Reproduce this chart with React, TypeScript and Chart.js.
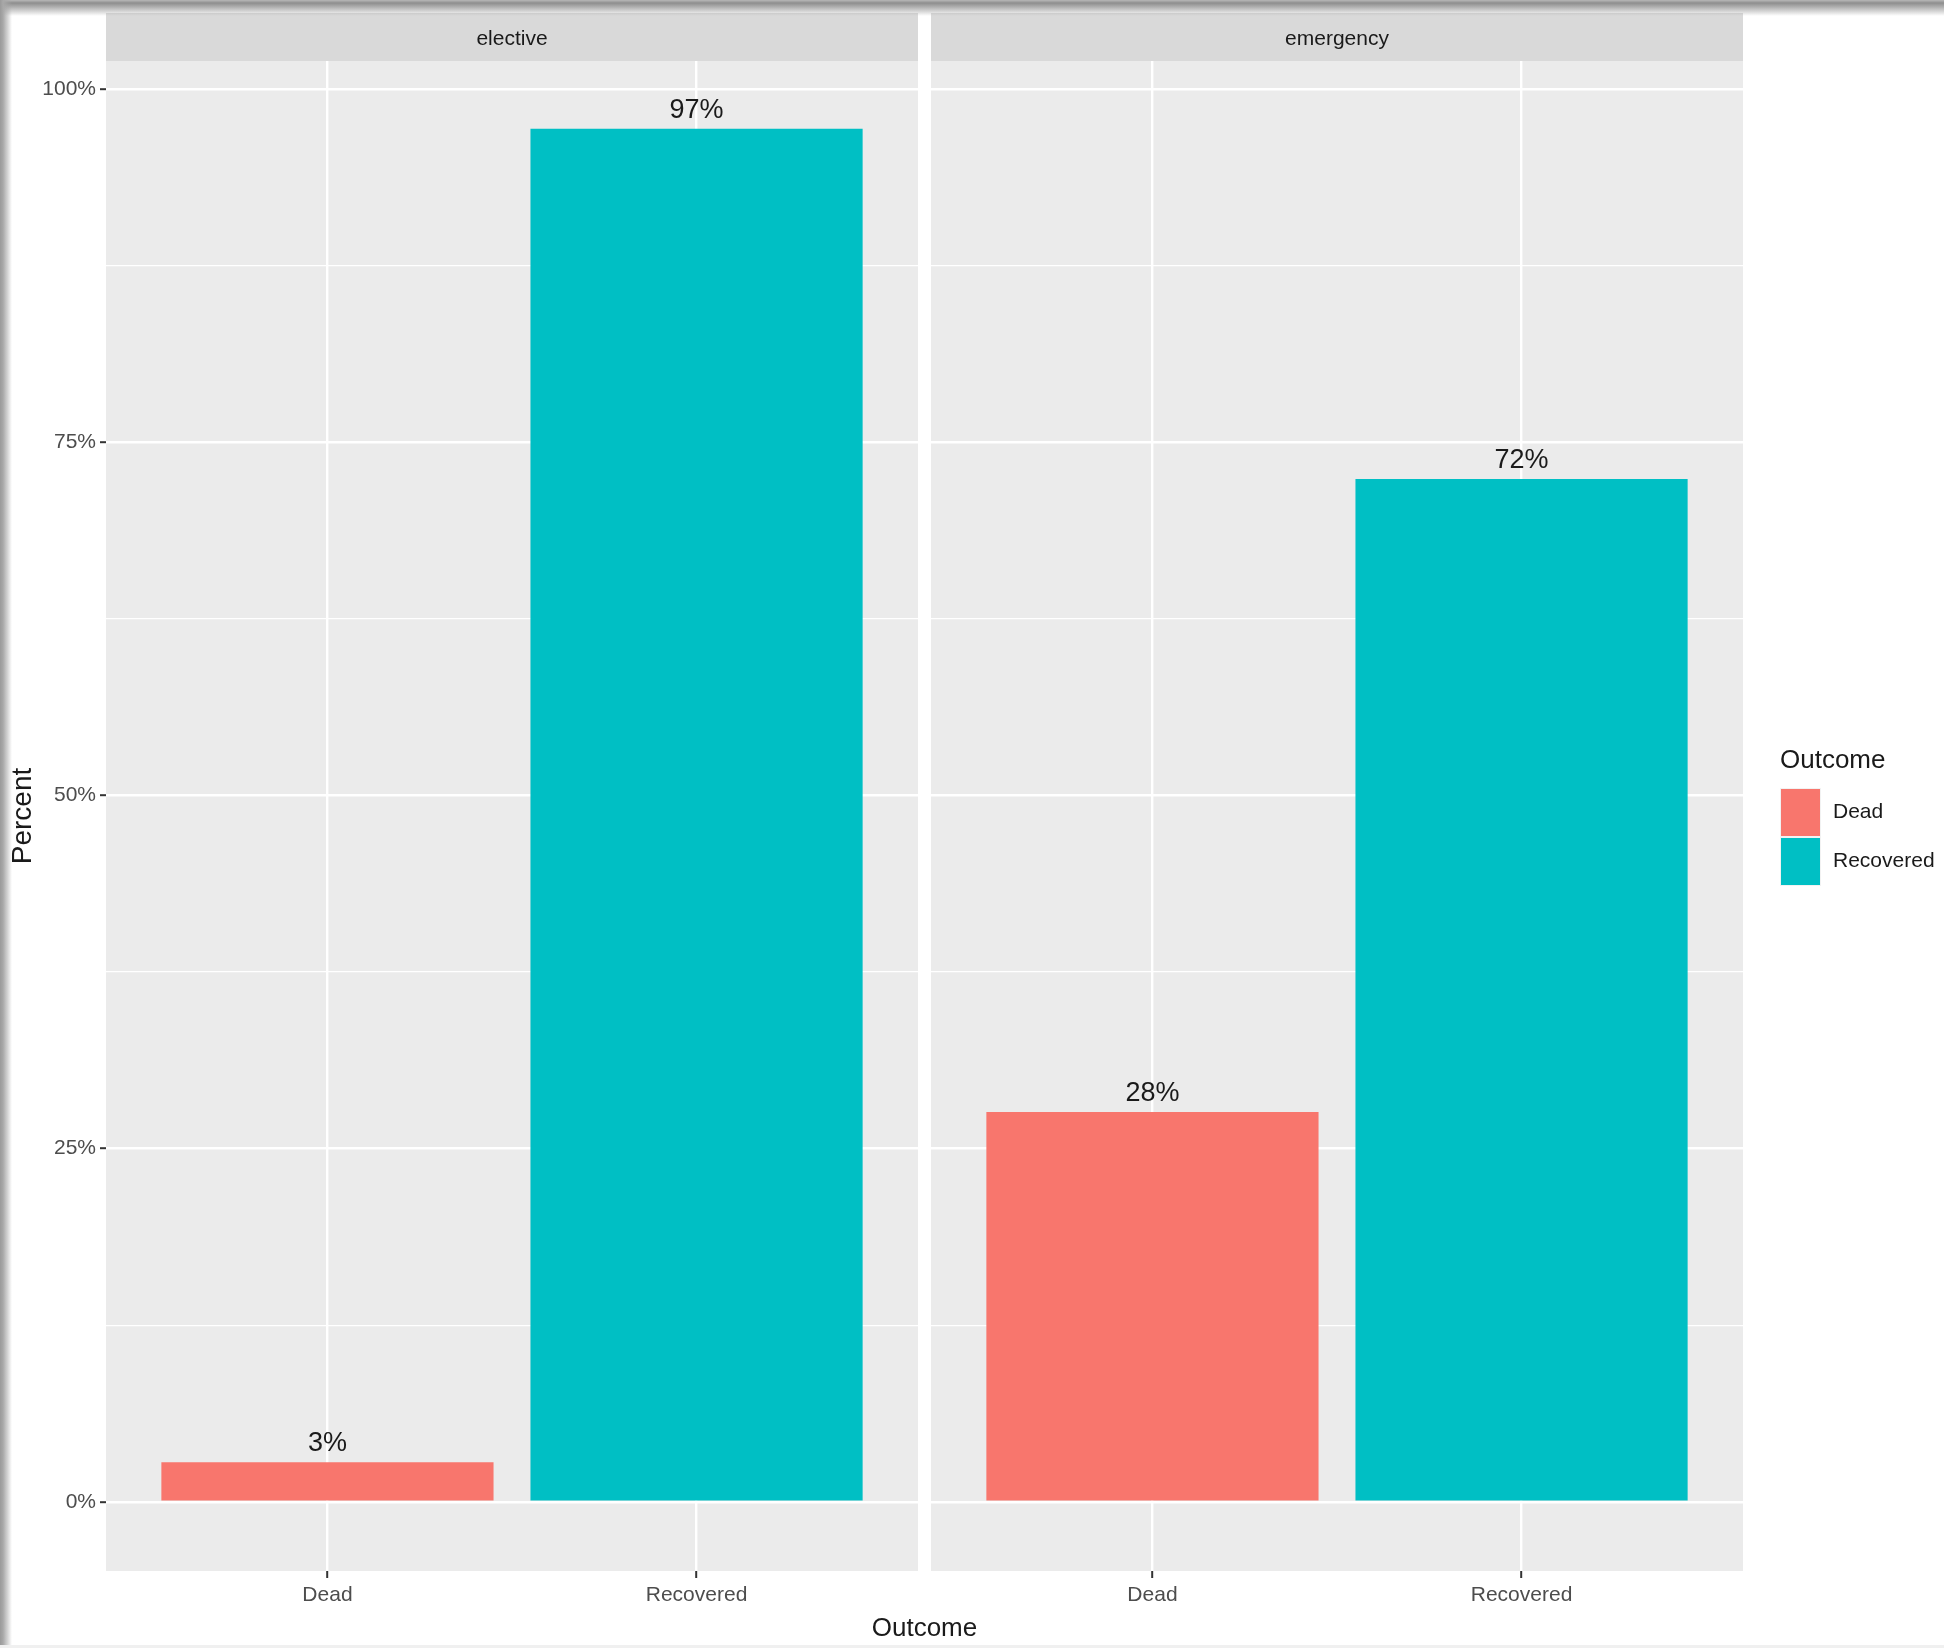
import React, { useEffect, useRef } from "react";
import { Chart, registerables } from "chart.js";

Chart.register(...registerables);

// ---------------- data ----------------
const facets = ["elective", "emergency"];
const outcomes = ["Dead", "Recovered"];
const electivePercent = [2.8, 97.2];
const emergencyPercent = [27.6, 72.4];
const outcomeColors = ["#F8766D", "#00BFC4"];
const yMajorTicks = [0, 25, 50, 75, 100];
const yMinorTicks = [12.5, 37.5, 62.5, 87.5];
const yMin = -4.9;
const yMax = 102.0;
const xMin = 0.4;
const xMax = 2.6;
const xTitle = "Outcome";
const yTitle = "Percent";
const legendTitle = "Outcome";

// ---------------- layout / style ----------------
const W = 1944;
const H = 1648;
const PANEL_A_LEFT = 106;
const PANEL_A_RIGHT = 918;
const PANEL_B_LEFT = 931;
const PANEL_B_RIGHT = 1743;
const PLOT_TOP = 61;
const PLOT_BOTTOM = 1571;
const STRIP_TOP = 13;

const SANS = '"Liberation Sans", Arial, sans-serif';
const SMALL = 21;
const TEXT_DARK = "#1A1A1A";
const TEXT_TICK = "#4D4D4D";

function makeConfig(values: number[], facet: string, isLeft: boolean, extraPlugins: any[]) {
  const panelPlugin = {
    id: "panel_" + facet,
    beforeDraw(chart: any) {
      const { ctx, chartArea } = chart;
      ctx.save();
      ctx.fillStyle = "#EBEBEB";
      ctx.fillRect(chartArea.left, chartArea.top, chartArea.right - chartArea.left, chartArea.bottom - chartArea.top);
      ctx.fillStyle = "#D9D9D9";
      ctx.fillRect(chartArea.left, STRIP_TOP, chartArea.right - chartArea.left, chartArea.top - STRIP_TOP);
      ctx.fillStyle = TEXT_DARK;
      ctx.font = `${SMALL}px ${SANS}`;
      ctx.textAlign = "center";
      ctx.textBaseline = "middle";
      ctx.fillText(facet, (chartArea.left + chartArea.right) / 2, (STRIP_TOP + chartArea.top) / 2 + 2);
      ctx.restore();
    },
    afterDatasetsDraw(chart: any) {
      const { ctx } = chart;
      const meta = chart.getDatasetMeta(0);
      ctx.save();
      ctx.fillStyle = TEXT_DARK;
      ctx.font = `27px ${SANS}`;
      ctx.textAlign = "center";
      ctx.textBaseline = "alphabetic";
      meta.data.forEach((el: any, i: number) => {
        ctx.fillText(`${Math.round(values[i])}%`, el.x, el.y - 11);
      });
      ctx.restore();
    },
  };

  const allYTicks = [...yMajorTicks, ...yMinorTicks].sort((a, b) => a - b);
  const isMajor = (v: number) => yMajorTicks.includes(v);

  return {
    type: "bar",
    data: {
      datasets: [
        {
          label: facet,
          data: values.map((v, i) => ({ x: i + 1, y: v })),
          backgroundColor: outcomeColors,
          borderWidth: 0,
          categoryPercentage: 0.9,
          barPercentage: 1.0,
        },
      ],
    },
    options: {
      responsive: false,
      animation: false,
      devicePixelRatio: 1,
      layout: {
        padding: isLeft
          ? { left: 0, top: PLOT_TOP, right: W - PANEL_A_RIGHT, bottom: 0 }
          : { left: PANEL_B_LEFT, top: PLOT_TOP, right: W - PANEL_B_RIGHT, bottom: 0 },
      },
      plugins: {
        legend: { display: false },
        tooltip: { enabled: false },
        title: { display: false },
      },
      scales: {
        x: {
          type: "linear",
          min: xMin,
          max: xMax,
          offset: false,
          afterBuildTicks: (s: any) => {
            s.ticks = outcomes.map((_, i) => ({ value: i + 1 }));
          },
          afterFit: (s: any) => {
            s.height = H - PLOT_BOTTOM;
          },
          ticks: {
            autoSkip: false,
            maxRotation: 0,
            minRotation: 0,
            padding: 5,
            color: TEXT_TICK,
            font: { family: SANS, size: SMALL },
            callback: (v: any) => outcomes[Math.round(Number(v)) - 1] ?? "",
          },
          grid: {
            offset: false,
            color: "#FFFFFF",
            lineWidth: 2.4,
            tickColor: "#333333",
            tickLength: 7,
            tickWidth: 2,
          },
          border: { display: false },
          title: { display: false },
        },
        y: {
          type: "linear",
          min: yMin,
          max: yMax,
          afterBuildTicks: (s: any) => {
            s.ticks = allYTicks.map((v) => ({ value: v }));
          },
          afterFit: (s: any) => {
            s.width = isLeft ? PANEL_A_LEFT : 0;
          },
          ticks: {
            display: isLeft,
            padding: 4,
            color: TEXT_TICK,
            font: { family: SANS, size: SMALL },
            callback: (v: any) => (isMajor(Number(v)) ? `${v}%` : ""),
          },
          grid: {
            color: "#FFFFFF",
            lineWidth: (c: any) => (c.tick && isMajor(c.tick.value) ? 2.4 : 1.2),
            tickColor: (c: any) => (c.tick && isMajor(c.tick.value) ? "#333333" : "rgba(0,0,0,0)"),
            tickLength: 6,
            tickWidth: 2,
            drawTicks: isLeft,
          },
          border: { display: false },
          title: {
            display: isLeft,
            text: yTitle,
            color: TEXT_DARK,
            font: { family: SANS, size: 28, lineHeight: 1 },
            padding: { top: 9, bottom: 0 },
          },
        },
      },
    },
    plugins: [panelPlugin, ...extraPlugins],
  } as any;
}

export default function App() {
  const refA = useRef<HTMLCanvasElement | null>(null);
  const refB = useRef<HTMLCanvasElement | null>(null);

  useEffect(() => {
    document.body.style.margin = "0";
    if (!refA.current || !refB.current) return;
    const chartA = new Chart(refA.current, makeConfig(electivePercent, facets[0], true, []));

    const sharedPlugin = {
      id: "shared",
      afterDraw(chart: any) {
        const { ctx, chartArea } = chart;
        ctx.save();
        // shared x-axis title
        ctx.fillStyle = TEXT_DARK;
        ctx.font = `26px ${SANS}`;
        ctx.textAlign = "center";
        ctx.textBaseline = "middle";
        const left = chartA.chartArea ? chartA.chartArea.left : PANEL_A_LEFT;
        ctx.fillText(xTitle, (left + chartArea.right) / 2, 1629);

        // legend
        const lx = chartArea.right + 37;
        const midY = (chartArea.top + chartArea.bottom) / 2;
        ctx.textAlign = "left";
        ctx.font = `26px ${SANS}`;
        ctx.fillText(legendTitle, lx, midY - 55);
        const keyW = 39;
        const keyH = 47;
        const keyTop = midY - 27;
        ctx.fillStyle = "#F2F2F2";
        ctx.fillRect(lx, keyTop - 1, keyW + 2, keyH * 2 + 4);
        outcomes.forEach((name, i) => {
          const ky = keyTop + i * (keyH + 2);
          ctx.fillStyle = outcomeColors[i];
          ctx.fillRect(lx + 1, ky, keyW, keyH);
          ctx.fillStyle = TEXT_DARK;
          ctx.font = `${SMALL}px ${SANS}`;
          ctx.fillText(name, lx + 53, ky + keyH / 2);
        });
        ctx.restore();
      },
    };

    const chartB = new Chart(refB.current, makeConfig(emergencyPercent, facets[1], false, [sharedPlugin]));
    return () => {
      chartA.destroy();
      chartB.destroy();
    };
  }, []);

  const abs: React.CSSProperties = { position: "absolute", left: 0, top: 0, width: W, height: H };
  return (
    <div style={{ ...abs, background: "#FFFFFF", overflow: "hidden" }}>
      <canvas ref={refA} width={W} height={H} style={abs} />
      <canvas ref={refB} width={W} height={H} style={abs} />
      <div
        style={{
          position: "absolute",
          left: 0,
          top: 0,
          width: W,
          height: 16,
          pointerEvents: "none",
          background:
            "linear-gradient(to bottom, #b8b8b8 0px, #8e8e8e 3px, #b0b0b0 7px, rgba(255,255,255,0) 16px)",
        }}
      />
      <div
        style={{
          position: "absolute",
          left: 0,
          top: 0,
          width: 12,
          height: H,
          pointerEvents: "none",
          background: "linear-gradient(to right, #9a9a9a 0px, #a8a8a8 3px, rgba(255,255,255,0) 12px)",
        }}
      />
      <div
        style={{
          position: "absolute",
          left: 0,
          top: H - 3,
          width: W,
          height: 3,
          pointerEvents: "none",
          background: "#f0f0f0",
        }}
      />
    </div>
  );
}
